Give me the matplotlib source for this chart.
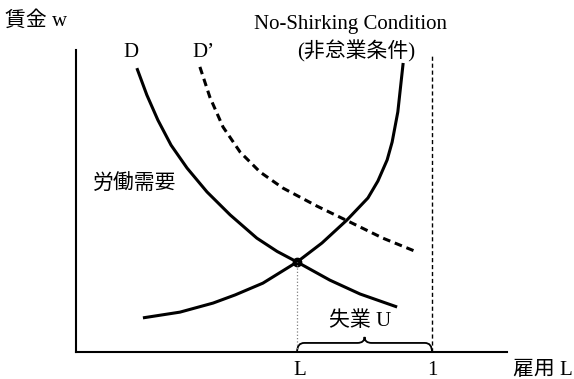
import matplotlib
matplotlib.use('Agg')
import matplotlib.pyplot as plt
from matplotlib.path import Path
from matplotlib.patches import PathPatch

plt.rcParams['font.family'] = ['Liberation Serif', 'Noto Sans CJK JP']

# labour demand D (employment L, wage w)
d_L = [0.171, 0.199, 0.230, 0.267, 0.312, 0.368, 0.433, 0.508, 0.565, 0.621, 0.713, 0.798, 0.902]
d_w = [0.940, 0.851, 0.768, 0.685, 0.609, 0.530, 0.454, 0.377, 0.333, 0.298, 0.238, 0.192, 0.149]

# shifted demand D'
d2_L = [0.348, 0.376, 0.413, 0.461, 0.517, 0.581, 0.677, 0.770, 0.862, 0.958]
d2_w = [0.944, 0.844, 0.745, 0.662, 0.596, 0.543, 0.483, 0.430, 0.377, 0.331]

# no-shirking condition
nsc_L = [0.188, 0.292, 0.385, 0.447, 0.525, 0.621, 0.691, 0.761, 0.820, 0.848, 0.874, 0.888, 0.904, 0.919]
nsc_w = [0.113, 0.132, 0.162, 0.189, 0.228, 0.298, 0.361, 0.437, 0.510, 0.566, 0.636, 0.695, 0.795, 0.957]

eq_L, eq_w = 0.621, 0.298
full_L = 1.0

fig = plt.figure(figsize=(5.74, 3.79), dpi=100)
ax = fig.add_axes([76/574, 27/379, 431/574, 302/379])
ax.set_xlim(0, 431/356)
ax.set_ylim(0, 1)
for s in ['top', 'right']:
    ax.spines[s].set_visible(False)
for s in ['left', 'bottom']:
    ax.spines[s].set_linewidth(1.5)
ax.set_xticks([])
ax.set_yticks([])

ax.plot(d_L, d_w, color='black', lw=2.2, solid_capstyle='butt', solid_joinstyle='round')
ax.plot(d2_L, d2_w, color='black', lw=2.2, dashes=(2.5, 1.6), dash_joinstyle='round')
ax.plot(nsc_L, nsc_w, color='black', lw=2.2, solid_capstyle='butt', solid_joinstyle='round')
ax.plot([eq_L], [eq_w], 'o', color='black', ms=6)

ax.plot([eq_L, eq_L], [0, eq_w], color='gray', lw=0.9, ls=':')
ax.plot([full_L, full_L], [0, 0.983], color='black', lw=1.0, dashes=(3, 2))

# brace for unemployment
h1, h2 = 0.030, 0.050
mid = (eq_L + full_L) / 2
dx = 0.02
verts = [(eq_L, 0.0), (eq_L, h1), (eq_L + dx, h1),
         (mid - dx, h1), (mid, h1), (mid, h2),
         (mid, h1), (mid + dx, h1),
         (full_L - dx, h1), (full_L, h1), (full_L, 0.0)]
codes = [Path.MOVETO, Path.CURVE3, Path.CURVE3,
         Path.LINETO, Path.CURVE3, Path.CURVE3,
         Path.CURVE3, Path.CURVE3,
         Path.LINETO, Path.CURVE3, Path.CURVE3]
ax.add_patch(PathPatch(Path(verts, codes), fill=False, lw=1.3, color='black'))

fs = 15
kw = dict(ha='center', va='center', fontsize=fs, clip_on=False)
ax.text(-0.112, 1.096, '賃金 w', **kw)
ax.text(0.772, 1.083, 'No-Shirking Condition', **kw)
ax.text(0.787, 0.997, '(非怠業条件)', **kw)
ax.text(0.154, 0.993, 'D', **kw)
ax.text(0.357, 0.993, 'D’', **kw)
ax.text(0.166, 0.553, '労働需要', **kw)
ax.text(0.798, 0.103, '失業 U', **kw)
ax.text(eq_L + 0.008, -0.062, 'L', **kw)
ax.text(full_L, -0.062, '1', **kw)
ax.text(1.312, -0.062, '雇用 L', **kw)

fig.savefig('out.png', dpi=100)
